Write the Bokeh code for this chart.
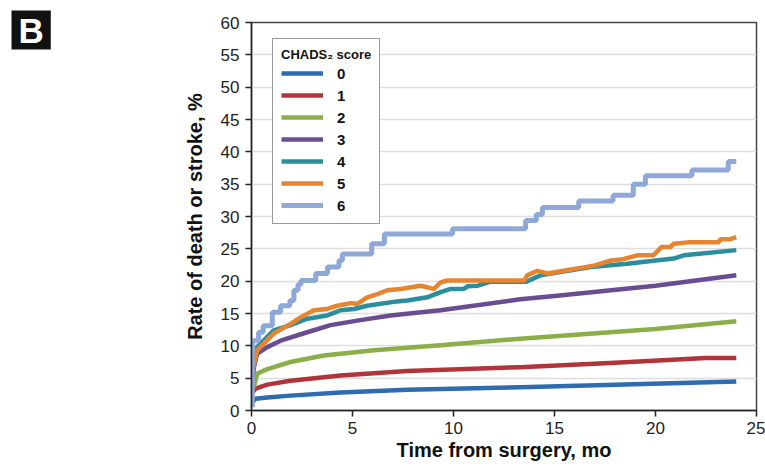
from bokeh.plotting import figure
from bokeh.models import Legend, LegendItem, Label, FixedTicker
from bokeh.embed import file_html
from bokeh.resources import INLINE

# CHADS2 score curves (months, % death or stroke)
x0 = [0.03, 0.2, 0.78, 1.93, 4.41, 7.71, 13.3, 18.0, 24.0]
y0 = [1.3, 1.8, 2.0, 2.3, 2.8, 3.2, 3.6, 4.0, 4.5]

x1 = [0.0, 0.2, 0.78, 1.93, 4.41, 7.71, 13.3, 18.0, 22.5, 24.0]
y1 = [2.6, 3.4, 4.0, 4.6, 5.4, 6.1, 6.7, 7.4, 8.1, 8.1]

x2 = [0.12, 0.28, 0.78, 1.93, 3.58, 6.06, 9.36, 13.3, 20.0, 24.0]
y2 = [3.6, 5.7, 6.4, 7.5, 8.5, 9.3, 10.1, 11.1, 12.6, 13.8]

x3 = [0.03, 0.12, 0.28, 0.78, 1.44, 2.76, 3.91, 5.23, 6.88, 9.36, 13.3, 15.0, 20.0, 24.0]
y3 = [4.6, 6.7, 8.8, 9.8, 10.8, 12.1, 13.2, 13.9, 14.7, 15.5, 17.2, 17.7, 19.3, 20.9]

x4 = [0.03, 0.28, 1.1, 1.93, 2.76, 3.75, 4.41, 5.07, 5.73, 6.39, 7.05, 7.71, 8.7,
      9.36, 9.86, 10.5, 10.7, 11.2, 11.8, 13.6, 14.3, 16.8, 18.6, 20.9, 21.4, 24.0]
y4 = [6.0, 9.8, 12.4, 13.2, 14.2, 14.7, 15.5, 15.7, 16.2, 16.5, 16.8, 17.0, 17.5,
      18.3, 18.8, 18.8, 19.2, 19.3, 19.9, 19.9, 20.9, 22.2, 22.7, 23.5, 24.0, 24.8]

x5 = [0.03, 0.28, 1.1, 1.93, 2.43, 3.09, 3.75, 4.24, 4.9, 5.23, 5.73, 6.23, 6.72, 7.38,
      8.37, 9.03, 9.36, 9.69, 13.5, 13.65, 14.15, 14.65, 15.6, 16.95, 17.8, 18.4, 19.1,
      19.9, 20.3, 20.75, 20.9, 21.6, 23.1, 23.25, 23.7, 24.0]
y5 = [6.0, 9.3, 11.9, 13.4, 14.4, 15.5, 15.7, 16.2, 16.6, 16.5, 17.5, 18.0, 18.6, 18.8,
      19.3, 18.8, 19.8, 20.1, 20.1, 20.9, 21.6, 21.2, 21.7, 22.4, 23.2, 23.4, 24.0,
      24.0, 25.3, 25.3, 25.8, 26.0, 26.0, 26.5, 26.5, 26.8]

x6 = [0.04, 0.04, 0.35, 0.58, 1.03, 1.44, 1.9, 2.1, 2.3, 2.45, 3.18, 3.76, 4.33, 4.5,
      5.95, 6.58, 9.95, 13.57, 14.1, 14.4, 16.2, 17.9, 18.9, 19.5, 21.8, 23.6, 24.0]
y6 = [0.5, 10.8, 12.1, 13.1, 15.2, 16.2, 17.0, 18.6, 19.5, 20.1, 21.2, 22.2, 23.2, 24.2,
      25.8, 27.3, 28.1, 29.4, 30.3, 31.4, 32.4, 33.3, 35.0, 36.3, 37.2, 38.5, 38.5]

scores = ["0", "1", "2", "3", "4", "5", "6"]
colors = ["#2e6bb0", "#b0343a", "#8aaf48", "#6a4c93", "#2a8e9e", "#e6842f", "#8ea8d8"]

x_ticks = [0, 5, 10, 15, 20, 25]
y_ticks = [0, 5, 10, 15, 20, 25, 30, 35, 40, 45, 50, 55, 60]

FONT = "Liberation Sans"

p = figure(width=765, height=464, x_range=(0, 25), y_range=(0, 60),
           output_backend="svg", toolbar_location=None,
           min_border_left=251, min_border_right=9, min_border_top=22, min_border_bottom=54)

p.outline_line_color = "#444444"
p.outline_line_width = 1.5
p.xgrid.grid_line_color = None
p.ygrid.grid_line_color = "#dddddd"
p.ygrid.grid_line_width = 1.5

for ax in (p.xaxis[0], p.yaxis[0]):
    ax.axis_line_color = "#222222"
    ax.axis_line_width = 1.5
    ax.major_tick_line_color = "#222222"
    ax.major_tick_line_width = 1.5
    ax.major_tick_out = 6
    ax.major_tick_in = 0
    ax.minor_tick_line_color = None
    ax.major_label_text_font = FONT
    ax.major_label_text_font_size = "17px"
    ax.major_label_text_color = "#222222"
    ax.axis_label_text_font = FONT
    ax.axis_label_text_font_style = "bold"
    ax.axis_label_text_font_size = "20px"
    ax.axis_label_text_color = "#111111"

p.xaxis.ticker = FixedTicker(ticks=x_ticks)
p.yaxis.ticker = FixedTicker(ticks=y_ticks)
p.xaxis.axis_label = "Time from surgery, mo"
p.yaxis.axis_label = "Rate of death or stroke, %"
p.xaxis.major_label_standoff = 5
p.yaxis.major_label_standoff = 6
p.xaxis.axis_label_standoff = 2
p.yaxis.axis_label_standoff = 12

xs = [x0, x1, x2, x3, x4, x5]
ys = [y0, y1, y2, y3, y4, y5]
renderers = []
for xx, yy, c in zip(xs, ys, colors[:6]):
    r = p.line(xx, yy, line_color=c, line_width=4.5, line_join="round")
    renderers.append(r)
r6 = p.step(x6, y6, mode="after", line_color=colors[6], line_width=5)
renderers.append(r6)

items = [LegendItem(label=s, renderers=[r]) for s, r in zip(scores, renderers)]
legend = Legend(items=items, location=(21, 186),
                title="CHADS\u2082 score",
                title_text_font=FONT, title_text_font_style="bold",
                title_text_font_size="13px", title_text_color="#111111",
                title_standoff=1,
                label_text_font=FONT, label_text_font_style="bold",
                label_text_font_size="15px", label_text_color="#111111",
                glyph_width=42, glyph_height=20, label_height=20,
                spacing=2, padding=8, label_standoff=14,
                border_line_color="#333333", border_line_width=1.5,
                background_fill_color="white", background_fill_alpha=1.0)
p.add_layout(legend, "center")

lab = Label(x=-130, y=400, x_units="screen", y_units="screen", text="B",
            text_color="white", text_font=FONT, text_font_style="bold",
            text_font_size="35px", background_fill_color="#111111",
            padding=(7, 0), text_baseline="top", text_align="left")
p.add_layout(lab, "left")

open("out.html", "w").write(file_html(p, INLINE))
